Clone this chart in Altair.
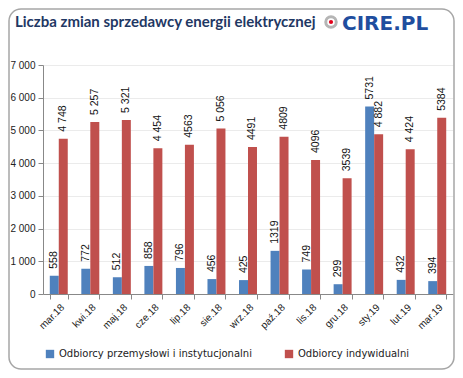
import altair as alt
import pandas as pd

months = ["mar.18", "kwi.18", "maj.18", "cze.18", "lip.18", "sie.18", "wrz.18",
          "paź.18", "lis.18", "gru.18", "sty.19", "lut.19", "mar.19"]
series_names = ["Odbiorcy przemysłowi i instytucjonalni", "Odbiorcy indywidualni"]
industrial = [558, 772, 512, 858, 796, 456, 425, 1319, 749, 299, 5731, 432, 394]
industrial_labels = ["558", "772", "512", "858", "796", "456", "425", "1319", "749", "299", "5731", "432", "394"]
household = [4748, 5257, 5321, 4454, 4563, 5056, 4491, 4809, 4096, 3539, 4882, 4424, 5384]
household_labels = ["4 748", "5 257", "5 321", "4 454", "4563", "5 056", "4491", "4809", "4096", "3539", "4 882", "4 424", "5384"]
y_ticks = [0, 1000, 2000, 3000, 4000, 5000, 6000, 7000]
colors = ["#4F81BD", "#C0504D"]
title_text = "Liczba zmian sprzedawcy energii elektrycznej"
logo_text = "CIRE.PL"

rows = []
for i, m in enumerate(months):
    rows.append({"month": m, "series": series_names[0], "value": industrial[i], "label": industrial_labels[i]})
    rows.append({"month": m, "series": series_names[1], "value": household[i], "label": household_labels[i]})
df = pd.DataFrame(rows)

W, H = 410, 229

x_enc = alt.X("month:N", sort=months, title=None,
              scale=alt.Scale(paddingInner=0.43, paddingOuter=0.215),
              axis=alt.Axis(labelAngle=-45, labelFont="Liberation Sans", labelFontSize=10,
                            labelColor="#222222", domainColor="#888888", tickColor="#888888",
                            tickBand="extent", tickSize=5, labelPadding=3))
xoff = alt.XOffset("series:N", sort=series_names)
y_enc = alt.Y("value:Q", title=None,
              scale=alt.Scale(domain=[0, 7000]),
              axis=alt.Axis(values=y_ticks, labelOverlap=False,
                            labelExpr="replace(format(datum.value, ','), ',', ' ')",
                            labelFont="Liberation Sans", labelFontSize=10, labelColor="#222222",
                            domain=True, domainColor="#888888", tickColor="#888888", tickSize=5,
                            grid=True, gridColor="#EBEBEB", labelPadding=3))

base = alt.Chart(df)

bars = base.mark_bar().encode(
    x=x_enc, xOffset=xoff, y=y_enc,
    color=alt.Color("series:N", sort=series_names,
                    scale=alt.Scale(domain=series_names, range=colors),
                    legend=alt.Legend(title=None, orient="none", direction="horizontal",
                                      legendX=2, legendY=284, symbolType="square",
                                      symbolSize=70, symbolStrokeWidth=0,
                                      labelFont="DejaVu Sans", labelFontSize=10,
                                      labelColor="#222222", columnPadding=32,
                                      labelLimit=400)),
)

labels = base.mark_text(angle=270, align="left", baseline="middle", dx=7,
                        font="Liberation Sans", fontSize=10.5, color="#111111").encode(
    x=x_enc, xOffset=xoff, y=y_enc, text="label:N"
)

one = alt.Data(values=[{"a": 1}])

border = alt.Chart(one).mark_rect(fill="transparent", stroke="#A6A6A6", strokeWidth=1.5,
                                  cornerRadius=12).encode(
    x=alt.value(-34), x2=alt.value(W + 1), y=alt.value(-56), y2=alt.value(H + 75)
)

title = alt.Chart(one).mark_text(align="left", baseline="alphabetic", font="Lato",
                                 fontWeight="bold", fontSize=15, color="#1F3864").encode(
    x=alt.value(-28), y=alt.value(-38), text=alt.value(title_text)
)

ring = alt.Chart(one).mark_point(shape="circle", filled=False, size=110, stroke="#B5B5B5",
                                 strokeWidth=3, opacity=1).encode(
    x=alt.value(288), y=alt.value(-43)
)
dot = alt.Chart(one).mark_point(shape="circle", filled=True, size=18, color="#E2001A",
                                opacity=1).encode(
    x=alt.value(288), y=alt.value(-43)
)
logo = alt.Chart(one).mark_text(align="left", baseline="alphabetic", font="DejaVu Sans",
                                fontWeight="bold", fontSize=20, color="#1F4E9F").encode(
    x=alt.value(299), y=alt.value(-35), text=alt.value(logo_text)
)

chart = alt.layer(border, title, ring, dot, logo, bars, labels).properties(
    width=W, height=H,
    autosize=alt.AutoSizeParams(type="none"),
    padding={"left": 35, "top": 57, "right": 2, "bottom": 76},
).configure_view(stroke=None).configure_axisX(grid=False)

chart.save("out.html", embed_options={"renderer": "svg", "actions": False})
